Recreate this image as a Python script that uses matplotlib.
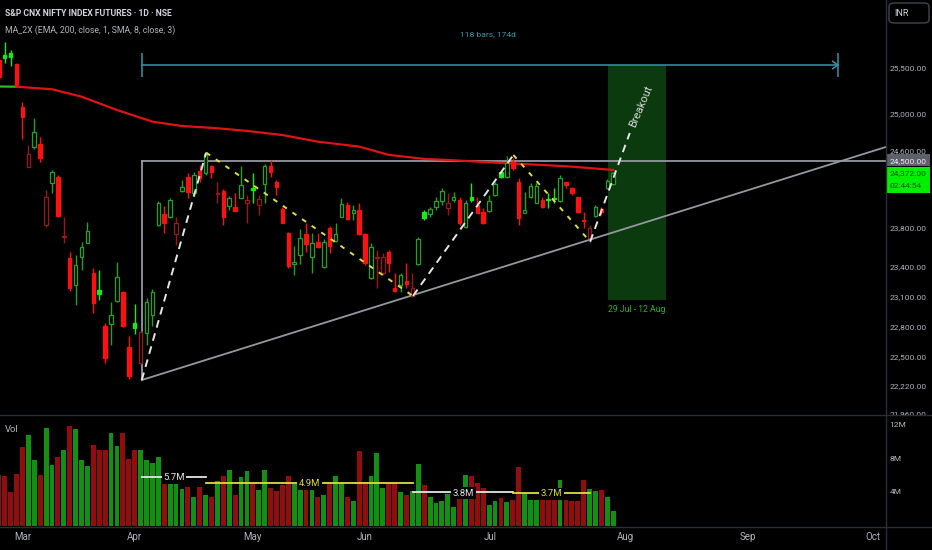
import numpy as np
import matplotlib
matplotlib.use('Agg')
import matplotlib.pyplot as plt
from matplotlib.lines import Line2D
from matplotlib.patches import Rectangle, FancyBboxPatch
from matplotlib.ticker import NullLocator
from matplotlib.transforms import blended_transform_factory

# daily candles, bar 0 is the partly hidden one at the left edge
opens = [25595, 25651, 25670, 25551, 25083, 24440, 24646, 24681, 23830, 24271,
         24331, 23707, 23495, 23219, 23506, 23648, 23337, 23169, 22814, 22827,
         23062, 23149, 22607, 22843, 22445, 22739, 22920, 23830, 23944, 23917,
         23735, 24187, 24334, 24160, 24398, 24373, 24450, 24152, 24187, 24031,
         24020, 24114, 24055, 24212, 24038, 24254, 24450, 24275, 23993, 23751,
         23431, 23523, 23735, 23506, 23659, 23397, 23803, 23669, 23917, 24038,
         23951, 23986, 23735, 23286, 23489, 23337, 23557, 23192, 23219, 23262,
         23109, 23431, 23968, 23944, 24020, 24080, 24003, 24090, 24090, 23807,
         24118, 24038, 23968, 23979, 24142, 24380, 24327, 24493, 24281, 23958,
         24118, 24062, 24090, 24105, 24115, 24083, 24275, 24212, 24118, 23882,
         23693, 23924, 23993, 24212, 24254]
highs = [25628, 25799, 25707, 25560, 25137, 24670, 24957, 24759, 24194, 24405,
         24352, 23917, 23557, 23523, 23655, 23864, 23390, 23370, 22840, 23052,
         23452, 23155, 22712, 23029, 22760, 23089, 23179, 24083, 24024, 24108,
         23917, 24299, 24370, 24384, 24458, 24589, 24458, 24281, 24205, 24132,
         24160, 24450, 24142, 24370, 24142, 24469, 24511, 24299, 24020, 23762,
         23615, 23786, 23848, 23745, 23751, 23686, 23820, 23848, 24108, 24073,
         24038, 24055, 23745, 23642, 23574, 23540, 23574, 23337, 23337, 23445,
         23343, 23710, 23986, 24020, 24125, 24212, 24160, 24176, 24125, 24090,
         24271, 24125, 24003, 24142, 24281, 24387, 24553, 24532, 24317, 24176,
         24264, 24264, 24125, 24166, 24212, 24352, 24281, 24229, 24125, 23968,
         23830, 24038, 24020, 24306, 24387]
lows = [25385, 25559, 25529, 25310, 24731, 24435, 24624, 24493, 23810, 24160,
        23910, 23642, 23162, 23019, 23370, 23642, 22939, 23069, 22448, 22624,
        23052, 22801, 22290, 22732, 22440, 22624, 22811, 23820, 23745, 23900,
        23625, 24176, 24108, 24132, 24281, 24352, 24317, 24055, 23830, 23986,
        23976, 24108, 23848, 24055, 23934, 24055, 24334, 24142, 23848, 23387,
        23320, 23431, 23557, 23337, 23594, 23390, 23540, 23659, 23910, 23882,
        23882, 23728, 23421, 23276, 23186, 23320, 23353, 23152, 23152, 23186,
        23102, 23421, 23882, 23917, 23986, 24038, 23934, 24073, 23830, 23796,
        24073, 23951, 23841, 23968, 24132, 24317, 24317, 24405, 23830, 23951,
        24108, 24055, 24003, 24003, 24055, 24073, 24212, 24142, 23958, 23796,
        23648, 23910, 23934, 24201, 24247]
closes = [25411, 25621, 25629, 25320, 24968, 24575, 24813, 24529, 24121, 24387,
          23924, 23717, 23186, 23421, 23608, 23769, 23042, 23129, 22500, 22920,
          23296, 22811, 22325, 22788, 22754, 23052, 23146, 24059, 23854, 24090,
          23848, 24229, 24176, 24352, 24317, 24575, 24380, 24163, 23917, 24108,
          23979, 24247, 24090, 24194, 24097, 24450, 24380, 24222, 23854, 23411,
          23455, 23693, 23635, 23648, 23602, 23659, 23615, 23735, 24045, 23889,
          23986, 23738, 23438, 23602, 23506, 23500, 23438, 23162, 23320, 23226,
          23192, 23683, 23906, 23996, 24083, 24187, 24055, 24118, 23848, 24055,
          24090, 23958, 23848, 24083, 24254, 24334, 24476, 24423, 23900, 23986,
          24236, 24240, 24014, 24085, 24095, 24317, 24247, 24166, 23968, 23872,
          23796, 24020, 23968, 24292, 24372]
# volume in millions
volumes = [6.0, 5.9, 4.0, 6.2, 9.4, 10.8, 7.8, 6.0, 11.6, 7.2,
           8.2, 9.0, 11.9, 11.5, 7.8, 7.1, 9.6, 9.0, 9.0, 11.1,
           9.5, 11.0, 8.0, 9.0, 9.0, 7.8, 7.5, 8.2, 5.9, 5.6,
           5.5, 4.4, 4.6, 3.5, 4.6, 3.7, 3.4, 5.3, 5.9, 6.7,
           3.7, 5.8, 6.5, 5.1, 4.3, 6.7, 4.5, 4.1, 4.9, 5.9,
           5.0, 5.7, 5.5, 5.7, 3.5, 3.7, 5.1, 5.9, 5.1, 3.4,
           3.0, 8.9, 5.2, 5.9, 8.7, 4.5, 5.1, 5.1, 4.0, 3.7,
           4.1, 7.4, 4.9, 3.4, 2.7, 3.0, 3.8, 2.2, 3.8, 6.0,
           5.9, 5.1, 4.5, 2.5, 3.0, 3.3, 2.8, 3.1, 7.0, 3.9,
           3.1, 3.1, 3.5, 3.2, 3.3, 5.5, 3.1, 3.0, 3.0, 5.5,
           4.4, 4.1, 4.3, 3.5, 1.8]

# EMA 200
ema_bars = [0, 3, 9, 14, 20, 26, 31, 37, 42, 48, 54, 61, 66, 72, 76, 86, 92, 97, 104]
ema_vals = [25303, 25301, 25273, 25192, 25047, 24921, 24874, 24850, 24821, 24777,
            24706, 24653, 24565, 24522, 24511, 24476, 24458, 24440, 24405]
ema_green_until = 3

months = ['Mar', 'Apr', 'May', 'Jun', 'Jul', 'Aug', 'Sep', 'Oct']
month_bars = [4.0, 23.0, 43.0, 61.9, 83.1, 106.0, 126.8, 148.0]

price_ticks = [25500, 25000, 24600, 23800, 23400, 23100, 22800, 22500, 22220, 21960]
vol_ticks = [12, 8, 4]

# drawings
zigzag_bars = [24.2, 35.1, 70.1, 87.1, 100.1, 106.8]
zigzag_prices = [22283, 24589, 23109, 24564, 23659, 24799]
resistance = 24500
support_bars = [24.2, 150.2]
support_prices = [22283, 24650]
avg_levels = [5.8, 5.1, 4.0, 3.9]
avg_labels = ['5.7M', '4.9M', '3.8M', '3.7M']
measure_bars = [24.2, 142.0]
measure_price = 25540
measure_text = '118 bars, 174d'
range_bars = [103.2, 112.9]
range_prices = [23069, 25540]
range_text = '29 Jul - 12 Aug'
breakout_text = 'Breakout'
last_price = 24372
countdown = '02:44:54'

FONT = ['Roboto', 'DejaVu Sans']
AXC = '#b2b5be'
SEP = '#2a2e39'
WHITE = '#e6e6e6'
YELLOW = '#dede3c'
CYAN = '#3796a8'


def main():
    W, H = 932, 550
    fig = plt.figure(figsize=(W / 100, H / 100), dpi=100)
    fig.patch.set_facecolor('black')

    ax = fig.add_axes([0, 135 / H, 1, 415 / H])
    axv = fig.add_axes([0, 23 / H, 1, 112 / H])
    xlim = (0.2, 157.96)
    for a in (ax, axv):
        a.set_facecolor('black')
        a.set_xlim(*xlim)
        for s in a.spines.values():
            s.set_visible(False)
        a.set_xticks([])
    ax.set_yscale('log')
    ax.set_ylim(21948, 26269)
    ax.yaxis.set_major_locator(NullLocator())
    ax.yaxis.set_minor_locator(NullLocator())
    axv.set_ylim(-0.12, 13.18)
    axv.set_yticks([])

    o = np.array(opens, float)
    h = np.array(highs, float)
    l = np.array(lows, float)
    c = np.array(closes, float)
    x = np.arange(len(c))
    prev = np.r_[c[0] + 1, c[:-1]]
    up = c >= prev
    hollow = c >= o

    cols, faces = [], []
    for u, hl in zip(up, hollow):
        if u:
            col = '#21a321' if hl else '#12ee12'
        else:
            col = '#9a1818' if hl else '#ff1010'
        cols.append(col)
        faces.append('black' if hl else col)

    top = np.maximum(o, c)
    bot = np.minimum(o, c)
    top = np.maximum(top, bot * 1.0005)

    ax.vlines(x, top, h, colors=cols, lw=1, zorder=4)
    ax.vlines(x, l, bot, colors=cols, lw=1, zorder=4)
    ax.bar(x, top - bot, bottom=bot, width=0.6, color=faces, edgecolor=cols,
           linewidth=0.9, zorder=4)

    # EMA
    g = ema_bars.index(ema_green_until)
    ax.plot(ema_bars[:g + 1], ema_vals[:g + 1], color='#22c022', lw=1.6, zorder=3)
    ax.plot(ema_bars[g:], ema_vals[g:], color='#dd1414', lw=1.6, zorder=3)

    # date range box
    ax.add_patch(Rectangle((range_bars[0], range_prices[0]), range_bars[1] - range_bars[0],
                           range_prices[1] - range_prices[0], facecolor='#0b3a0f',
                           edgecolor='none', zorder=1))
    ax.text(np.mean(range_bars), range_prices[0] * 0.9957, range_text, color='#1fb81f',
            fontsize=6.2, ha='center', va='center', family=FONT, zorder=6)

    # triangle
    ax.plot([support_bars[0], support_bars[1]], [resistance, resistance], color='#9598a1',
            lw=1.3, zorder=2)
    ax.plot([support_bars[0], support_bars[0]], [support_prices[0], resistance],
            color='#9598a1', lw=1.3, zorder=2)
    ax.plot(support_bars, support_prices, color='#9598a1', lw=1.3, zorder=2)

    # zigzag
    for i in range(len(zigzag_bars) - 1):
        col = WHITE if i % 2 == 0 else YELLOW
        dash = (4, 3) if i % 2 == 0 else (2.5, 3.5)
        ax.plot(zigzag_bars[i:i + 2], zigzag_prices[i:i + 2], color=col, lw=1.4,
                dashes=dash, zorder=5)
    ax.text(108.7, 25087, breakout_text, rotation=67, rotation_mode='anchor',
            color='#d8d8d8', fontsize=8, ha='center', va='center', family=FONT, zorder=6)

    # bars measure
    m0, m1 = measure_bars
    ax.plot([m0, m1], [measure_price, measure_price], color=CYAN, lw=1.1, zorder=5)
    ax.vlines([m0, m1], measure_price / 1.0052, measure_price * 1.0052, colors=CYAN,
              lw=1.1, zorder=5)
    ax.plot([m1 - 0.85, m1, m1 - 0.85], [measure_price * 1.0016, measure_price,
            measure_price / 1.0016], color=CYAN, lw=1.1, zorder=5)
    ax.text((m0 + m1) / 2 - 0.3, measure_price * 1.0135, measure_text, color=CYAN,
            fontsize=6.1, ha='center', va='center', family=FONT)

    # volume
    vcol = ['#129012' if hl else '#900e0e' for hl in hollow]
    axv.bar(x, volumes, width=0.82, color=vcol, zorder=2)
    for i, (lev, lab) in enumerate(zip(avg_levels, avg_labels)):
        col = WHITE if i % 2 == 0 else YELLOW
        b0, b1 = zigzag_bars[i], zigzag_bars[i + 1]
        axv.plot([b0, b1], [lev, lev], color=col, lw=1.3, zorder=3)
        axv.text((b0 + b1) / 2, lev - 0.1, lab, color=col, fontsize=6.8, ha='center',
                 va='center', family=FONT, zorder=4,
                 bbox=dict(facecolor='black', edgecolor='none', pad=1.2))

    # right scale
    lx = 150.75
    fs = 6.0
    for p in price_ticks:
        ax.text(lx, p, f'{p:,.2f}', color=AXC, fontsize=fs, va='center', ha='left',
                family=FONT, clip_on=True, zorder=6)
    for v in vol_ticks:
        axv.text(lx, v, f'{v}M', color=AXC, fontsize=fs, va='center', ha='left',
                 family=FONT, clip_on=True)
    ax.add_patch(Rectangle((150.2, 24447), 7.45, 24575 - 24447, facecolor='#5d606b',
                           edgecolor='none', zorder=7))
    ax.text(lx, resistance, f'{resistance:,.2f}', color='#f0f0f0', fontsize=fs,
            va='center', ha='left', family=FONT, zorder=8)
    ax.add_patch(Rectangle((150.2, 24163), 7.45, 24437 - 24163, facecolor='#00f000',
                           edgecolor='none', zorder=7))
    ax.text(lx, 24373, f'{last_price:,.2f}', color='#0b4f0b', fontsize=fs,
            va='center', ha='left', family=FONT, zorder=8)
    ax.text(lx, 24236, countdown, color='#0b4f0b', fontsize=fs, va='center', ha='left',
            family=FONT, zorder=8)

    # time scale
    tr = blended_transform_factory(axv.transData, fig.transFigure)
    for m, b in zip(months, month_bars):
        fig.text(b, 1 - 537 / H, m, transform=tr, color=AXC, fontsize=7, ha='center',
                 va='center', family=FONT)

    # pane separators
    for y in (415, 527):
        fig.add_artist(Line2D([0, 1], [1 - y / H, 1 - y / H], color=SEP, lw=1,
                              transform=fig.transFigure))
    fig.add_artist(Line2D([886 / W, 886 / W], [0, 1], color=SEP, lw=1,
                          transform=fig.transFigure))

    # header
    fig.text(5 / W, 1 - 14 / H, 'S&P CNX NIFTY INDEX FUTURES · 1D · NSE', color='#d1d4dc',
             fontsize=6.2, fontweight='bold', va='center', family=FONT)
    fig.text(5 / W, 1 - 30 / H, 'MA_2X (EMA, 200, close, 1, SMA, 8, close, 3)',
             color='#b2b5be', fontsize=6.3, va='center', family=FONT)
    fig.text(5 / W, 1 - 430 / H, 'Vol', color=AXC, fontsize=6.8, va='center', family=FONT)

    fig.add_artist(FancyBboxPatch((889 / W, 1 - 23 / H), 40 / W, 20 / H,
                                  boxstyle='round,pad=0,rounding_size=0.006',
                                  facecolor='black', edgecolor='#434651', lw=1,
                                  transform=fig.transFigure))
    fig.text(894 / W, 1 - 13 / H, 'INR', color='#d1d4dc', fontsize=6.5, va='center',
             family=FONT)

    fig.savefig('out.png', dpi=100, facecolor='black')


if __name__ == '__main__':
    main()
